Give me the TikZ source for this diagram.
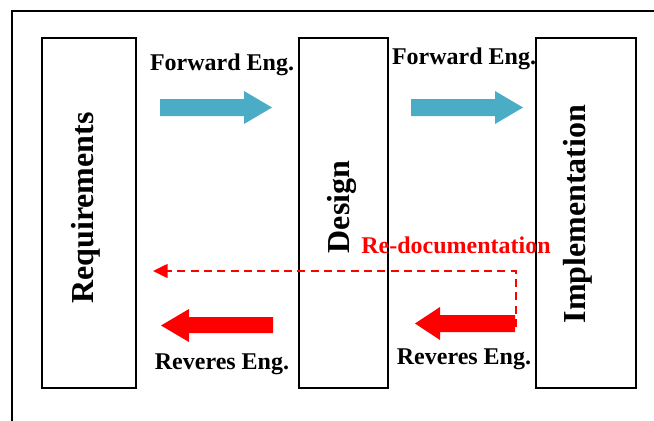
\documentclass[tikz,border=0pt]{standalone}
\usepackage{fontspec}
\setmainfont{Liberation Serif}
\usetikzlibrary{arrows.meta}
\definecolor{aqua}{HTML}{4BACC6}
\definecolor{fred}{HTML}{FF0000}
\begin{document}
\begin{tikzpicture}[x=0.75pt,y=-0.75pt,
  box/.style={draw, line width=1.5pt, inner sep=0pt, minimum height=262.5pt},
  bigtxt/.style={rotate=90, font=\fontsize{24}{27}\selectfont\bfseries, inner sep=0pt},
  lbl/.style={anchor=base, font=\fontsize{18}{21}\selectfont\bfseries, inner sep=0pt},
  fwd/.style={fill=aqua},
  rev/.style={fill=fred},
  redoc/.style={draw=fred, line width=1.1pt, dash pattern=on 6pt off 4pt,
    -{Triangle[length=11pt,width=10.5pt]}}
]
\useasboundingbox (0,0) rectangle (654,421);
% outer frame (only top and left edges visible)
\draw[line width=1.5pt] (12,421) -- (12,11) -- (654,11);
% boxes
\node[box, minimum width=70.5pt] (req) at (89,213) {};
\node[box, minimum width=66.75pt] (des) at (343.5,213) {};
\node[box, minimum width=75pt] (imp) at (586,213) {};
% box titles
\node[bigtxt] (reqt) at (86,208) {Requirements};
\node[bigtxt] (dest) at (342,207) {Design};
\node[bigtxt] (impt) at (578,214) {Implementation};
% forward arrows
\fill[fwd] (160,99) -- (244,99) -- (244,91) -- (272,107.5) -- (244,124) -- (244,116) -- (160,116) -- cycle;
\fill[fwd] (411,99) -- (495,99) -- (495,91) -- (523,107.5) -- (495,124) -- (495,116) -- (411,116) -- cycle;
% reverse arrows
\fill[rev] (273,317) -- (189,317) -- (189,309) -- (161,325.5) -- (189,342) -- (189,333) -- (273,333) -- cycle;
\fill[rev] (515,315) -- (440,315) -- (440,307) -- (415,323.5) -- (440,340) -- (440,332) -- (515,332) -- cycle;
% re-documentation dashed connector
\coordinate (rdstart) at (516,327);
\coordinate (rdend) at (153,271);
\draw[redoc] (rdstart) |- (rdend);
% labels
\node[lbl] (f1) at (222,70) {Forward Eng.};
\node[lbl] (f2) at (464,64) {Forward Eng.};
\node[lbl] (r1) at (222,369) {Reveres Eng.};
\node[lbl] (r2) at (464,364) {Reveres Eng.};
\node[lbl, text=fred] (rd) at (456,253) {Re-documentation};
\end{tikzpicture}
\end{document}
